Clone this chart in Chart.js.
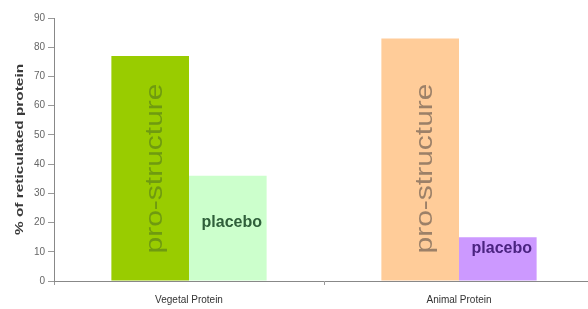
<!DOCTYPE html>
<html lang="en">
<head>
  <meta charset="UTF-8" />
  <title>Reticulated protein</title>
  <script src="https://cdn.jsdelivr.net/npm/chart.js"></script>
  <style>
    html, body {
      margin: 0;
      padding: 0;
      background: #fff;
      overflow: hidden;
    }
    #wrap {
      width: 594px;
      height: 309px;
    }
  </style>
</head>
<body>
  <div id="wrap"><canvas id="grafico"></canvas></div>

  <script>
    // data
    const categories = ['Vegetal Protein', 'Animal Protein'];
    const proStructure = [77, 83];
    const placebo = [36, 15];
    const yMin = 0;
    const yMax = 90;
    const yStep = 10;

    const proColors = ['#99cc00', '#ffcc99'];
    const placeboColors = ['#ccffcc', '#cc99ff'];
    const proTextColors = ['#6f9a10', '#9c8068'];
    const placeboTextColors = ['#2f5f3a', '#4a2380'];

    const FONT = '"Liberation Sans", Arial, sans-serif';

    // texts inside bars + the stretched axis title
    const barTexts = {
      id: 'barTexts',
      afterDatasetsDraw(chart) {
        const ctx = chart.ctx;
        const y = chart.scales.y;

        ctx.save();
        chart.getDatasetMeta(0).data.forEach((bar, i) => {
          ctx.save();
          ctx.translate(bar.x + 5, y.getPixelForValue(38.5));
          ctx.rotate(-Math.PI / 2);
          ctx.scale(1.25, 1);
          ctx.font = '24px ' + FONT;
          ctx.fillStyle = proTextColors[i];
          ctx.textAlign = 'center';
          ctx.textBaseline = 'middle';
          ctx.fillText('pro-structure', 0, 0);
          ctx.restore();
        });

        chart.getDatasetMeta(1).data.forEach((bar, i) => {
          const ty = Math.max(bar.y + 11, y.getPixelForValue(20));
          ctx.font = 'bold 16px ' + FONT;
          ctx.fillStyle = placeboTextColors[i];
          ctx.textAlign = 'center';
          ctx.textBaseline = 'middle';
          ctx.fillText('placebo', bar.x + 4, ty);
        });

        ctx.translate(20, (chart.chartArea.top + chart.chartArea.bottom) / 2);
        ctx.rotate(-Math.PI / 2);
        ctx.scale(1.4, 1);
        ctx.font = 'bold 11px ' + FONT;
        ctx.fillStyle = '#3a3a3a';
        ctx.textAlign = 'center';
        ctx.textBaseline = 'middle';
        ctx.fillText('% of reticulated protein', 0, 0);
        ctx.restore();
      }
    };

    const ctx = document.getElementById('grafico').getContext('2d');
    new Chart(ctx, {
      type: 'bar',
      data: {
        labels: categories,
        datasets: [{
          label: 'pro-structure',
          data: proStructure,
          backgroundColor: proColors,
          borderWidth: 0
        }, {
          label: 'placebo',
          data: placebo,
          backgroundColor: placeboColors,
          borderWidth: 0
        }]
      },
      options: {
        responsive: true,
        maintainAspectRatio: false,
        animation: false,
        layout: { padding: { top: 18, right: 0, left: 0, bottom: 0 } },
        plugins: {
          legend: { display: false },
          tooltip: { enabled: false }
        },
        datasets: {
          bar: { barPercentage: 1, categoryPercentage: 0.575 }
        },
        scales: {
          x: {
            grid: { drawOnChartArea: false, tickLength: 4, color: '#999' },
            border: { color: '#888' },
            ticks: { padding: 9, color: '#333', font: { family: FONT, size: 10 } },
            afterFit(scale) { scale.height = 28; }
          },
          y: {
            min: yMin,
            max: yMax,
            grid: { drawOnChartArea: false, tickLength: 6, color: '#999' },
            border: { color: '#888' },
            ticks: { stepSize: yStep, padding: 3, color: '#666', font: { family: FONT, size: 10 } },
            afterFit(scale) { scale.width = 54; }
          }
        }
      },
      plugins: [barTexts]
    });
  </script>
</body>
</html>
